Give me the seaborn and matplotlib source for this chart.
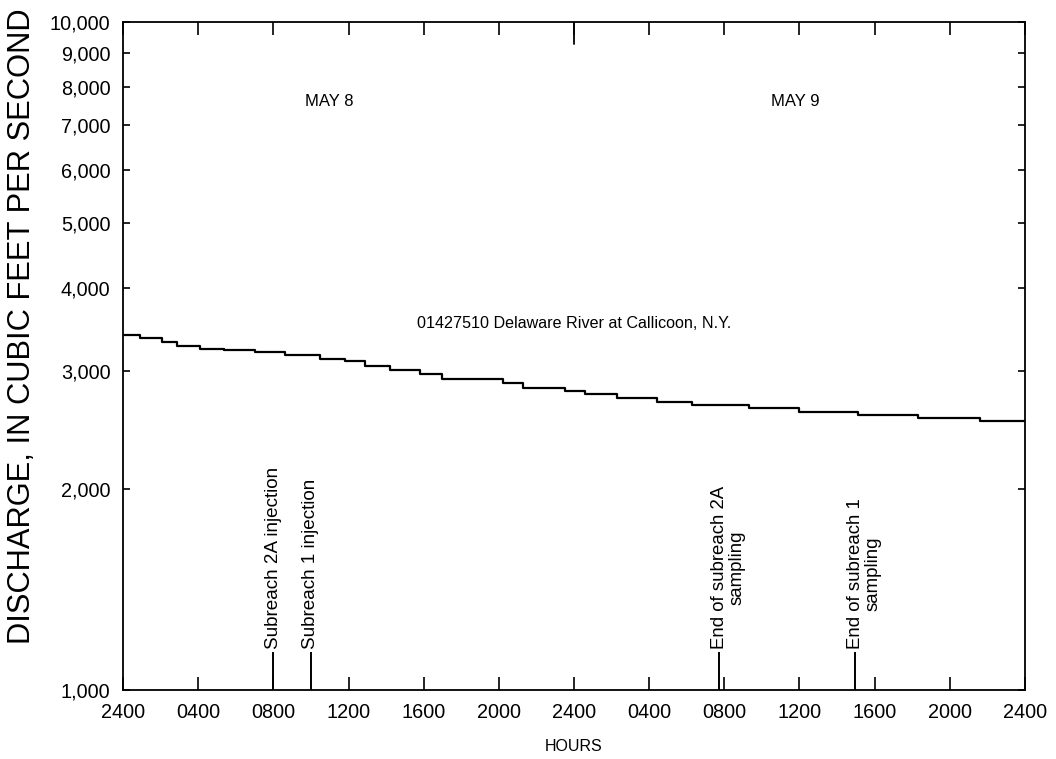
import matplotlib
matplotlib.use("Agg")
import matplotlib.pyplot as plt
import matplotlib.transforms as mtransforms
from matplotlib.ticker import NullLocator, FixedLocator, FixedFormatter
import seaborn as sns
import pandas as pd

# Hourly discharge record (hours from 2400 May 7), step changes in gage readings
hours = [0, 0.9, 2.1, 2.9, 4.1, 5.4, 7.0, 8.6, 10.5, 11.8, 12.9, 14.2, 15.8,
         17.0, 20.2, 21.3, 23.5, 24.6, 26.3, 28.4, 30.3, 33.3, 36.0, 39.1,
         42.3, 45.6, 48.0]
discharge = [3400, 3360, 3313, 3268, 3245, 3223, 3201, 3168, 3135, 3103, 3060,
             3018, 2967, 2926, 2886, 2836, 2807, 2778, 2740, 2703, 2675, 2647,
             2610, 2584, 2557, 2531, 2531]

# Sampling events
event_hours = [8.0, 10.0, 31.73, 38.96]
event_labels = ["Subreach 2A injection", "Subreach 1 injection",
                "End of subreach 2A\nsampling", "End of subreach 1\nsampling"]

x_ticks = [0, 4, 8, 12, 16, 20, 24, 28, 32, 36, 40, 44, 48]
x_tick_labels = ["2400", "0400", "0800", "1200", "1600", "2000", "2400",
                 "0400", "0800", "1200", "1600", "2000", "2400"]
y_ticks = [1000, 2000, 3000, 4000, 5000, 6000, 7000, 8000, 9000, 10000]
y_tick_labels = [f"{v:,}" for v in y_ticks]

day_labels = ["MAY 8", "MAY 9"]
day_hours = [11.0, 35.8]

station = "01427510 Delaware River at Callicoon, N.Y."

sns.set_theme(style="ticks")
plt.rcParams["font.family"] = ["Liberation Sans", "DejaVu Sans"]
plt.rcParams["text.color"] = "black"
plt.rcParams["axes.labelcolor"] = "black"

fig = plt.figure(figsize=(10.56, 7.59), dpi=100)
ax = fig.add_axes([123 / 1056, 69 / 759, 902 / 1056, 668 / 759])

df = pd.DataFrame({"hour": hours, "discharge": discharge})
sns.lineplot(data=df, x="hour", y="discharge", ax=ax, color="black",
             linewidth=1.6, drawstyle="steps-post", estimator=None)

ax.set_yscale("log")
ax.set_xlim(0, 48)
ax.set_ylim(1000, 10000)

ax.xaxis.set_major_locator(FixedLocator(x_ticks))
ax.xaxis.set_major_formatter(FixedFormatter(x_tick_labels))
ax.yaxis.set_major_locator(FixedLocator(y_ticks))
ax.yaxis.set_major_formatter(FixedFormatter(y_tick_labels))
ax.xaxis.set_minor_locator(NullLocator())
ax.yaxis.set_minor_locator(NullLocator())

ax.tick_params(axis="x", which="major", direction="in", length=9.5, width=1.2,
               top=True, bottom=True, labelsize=14.3, pad=9, colors="black")
ax.tick_params(axis="y", which="major", direction="in", length=5, width=1.2,
               left=True, right=True, labelsize=14.3, pad=9, colors="black")

for s in ax.spines.values():
    s.set_visible(True)
    s.set_color("black")
    s.set_linewidth(1.3)

# Longer tick marking midnight between the two days
ax.axvline(24, ymin=1 - 22 / 668, ymax=1, color="black", linewidth=1.3)

# Event markers with rotated labels
marker_top = 1140
ax.vlines(event_hours, 1000, marker_top, color="black", linewidth=1.4)
for h, lab in zip(event_hours, event_labels):
    if "\n" in lab:
        tr = mtransforms.offset_copy(ax.transData, fig=fig, x=-8, y=3,
                                     units="dots")
        ax.text(h, marker_top, lab, rotation=90, ha="left", va="bottom",
                fontsize=13.4, multialignment="center", transform=tr,
                linespacing=1.0)
    else:
        tr = mtransforms.offset_copy(ax.transData, fig=fig, x=0, y=3,
                                     units="dots")
        ax.text(h, marker_top, lab, rotation=90, ha="center", va="bottom",
                fontsize=13.6, transform=tr)

for h, lab in zip(day_hours, day_labels):
    ax.text(h, 7600, lab, ha="center", va="center", fontsize=12)

ax.text(24.0, 3540, station, ha="center", va="center", fontsize=11.6)

ax.set_xlabel("HOURS", fontsize=11.5)
ax.xaxis.label.set_verticalalignment("center")
ax.xaxis.set_label_coords(0.5, -0.084)

ax.set_ylabel("DISCHARGE, IN CUBIC FEET PER SECOND", fontsize=22.2)
ax.yaxis.label.set_verticalalignment("center")
ax.yaxis.set_label_coords(-0.112, 0.545)

fig.savefig("out.png", dpi=100, facecolor="white")
